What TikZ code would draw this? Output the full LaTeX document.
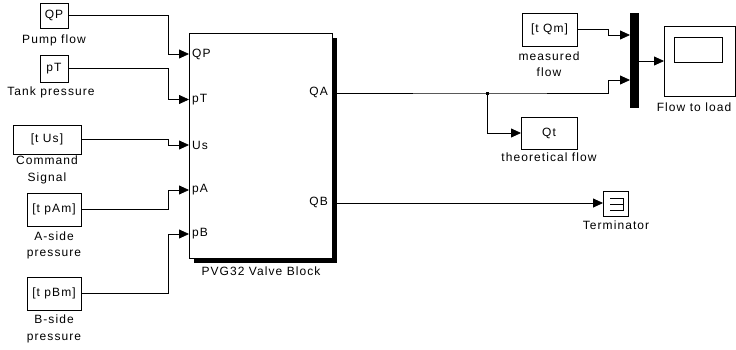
\documentclass[tikz,border=0pt]{standalone}
\usepackage{fontspec}
\setmainfont{Liberation Sans}[LetterSpace=9]
\usetikzlibrary{arrows.meta}
\begin{document}
\begin{tikzpicture}[x=1pt,y=-1pt,
  blk/.style={draw, line width=0.8pt, inner sep=0pt, outer sep=0pt, anchor=north west, font=\fontsize{12}{14}\selectfont},
  lbl/.style={font=\fontsize{12}{16.5}\selectfont, align=center, inner sep=0pt},
  port/.style={font=\fontsize{12}{14}\selectfont, inner sep=0pt},
  sig/.style={line width=0.8pt},
  arr/.style={sig, -{Triangle[length=10pt,width=9pt]}},
]
\useasboundingbox (0,0) rectangle (736,349);
% left source blocks
\node[blk, minimum width=28pt, minimum height=25pt] (QP) at (40,3) {QP};
\node[lbl] (QPl) at (54,40) {Pump flow};
\node[blk, minimum width=28pt, minimum height=27pt] (pT) at (40,55) {pT};
\node[lbl] (pTl) at (51,92) {Tank pressure};
\node[blk, minimum width=68pt, minimum height=29pt] (Us) at (13,125) {[t Us]};
\node[lbl] (Usl) at (47,170) {Command\\Signal};
\node[blk, minimum width=54pt, minimum height=33pt] (pA) at (27,193) {[t pAm]};
\node[lbl] (pAl) at (54,245.5) {A-side\\pressure};
\node[blk, minimum width=54pt, minimum height=33pt] (pB) at (27,277) {[t pBm]};
\node[lbl] (pBl) at (54,329) {B-side\\pressure};
% valve block
\fill (194,38) rectangle (337,263);
\node[blk, fill=white, minimum width=143pt, minimum height=225pt] (V) at (189,33) {};
\node[lbl] (Vl) at (261,271) {PVG32 Valve Block};
\coordinate (iQP) at (189,54);
\coordinate (ipT) at (189,99.5);
\coordinate (iUs) at (189,145);
\coordinate (ipA) at (189,190);
\coordinate (ipB) at (189,234);
\coordinate (oQA) at (337,93);
\coordinate (oQB) at (337,203);
\node[port, anchor=west] (lQP) at (192,54) {QP};
\node[port, anchor=west] (lpT) at (192,99.5) {pT};
\node[port, anchor=west] (lUs) at (192,145) {Us};
\node[port, anchor=west] (lpA) at (192,190) {pA};
\node[port, anchor=west] (lpB) at (192,234) {pB};
\node[port, anchor=east] (lQA) at (328,92) {QA};
\node[port, anchor=east] (lQB) at (328,202) {QB};
% left connectors
\draw[arr] (QP.east) -| ([xshift=-21pt]iQP) -- (iQP);
\draw[arr] (pT.east) -| ([xshift=-21pt]ipT) -- (ipT);
\draw[arr] (Us.east) -| ([xshift=-21pt]iUs) -- (iUs);
\draw[arr] (pA.east) -| ([xshift=-21pt]ipA) -- (ipA);
\draw[arr] (pB.east) -| ([xshift=-21pt]ipB) -- (ipB);
% right side
\node[blk, minimum width=55pt, minimum height=33pt] (Qm) at (522,13) {[t Qm]};
\node[lbl] (Qml) at (549,64) {measured\\flow};
\node[blk, fill=black, minimum width=8pt, minimum height=94pt] (mux) at (630,13) {};
\coordinate (m1) at (630,35);
\coordinate (m2) at (630,80);
\node[blk, minimum width=71pt, minimum height=70pt] (scope) at (664,26) {};
\draw[sig] (674,37) rectangle (722,62);
\node[lbl] (scl) at (694,107) {Flow to load};
\node[blk, minimum width=56pt, minimum height=32pt] (Qt) at (521,117) {Qt};
\node[lbl] (Qtl) at (549,157) {theoretical flow};
\node[blk, minimum width=25pt, minimum height=25pt] (term) at (603,191) {};
\draw[sig] (610,198) -- (623.5,198) -- (623.5,210) -- (610,210) (610,204) -- (623.5,204);
\node[lbl] (terml) at (616,225) {Terminator};
\coordinate (br) at (487,93);
\draw[arr] (Qm.east) -| ([xshift=-22pt]m1) -- (m1);
\draw[arr] (oQA) -- (br) -| ([xshift=-22pt]m2) -- (m2);
\fill (br) +(-1.5,-1.5) rectangle +(1.5,1.5);
\draw[arr] (br) |- (Qt.west);
\draw[arr] (mux.east |- scope.west) -- (scope.west);
\draw[arr] (oQB) -- (term.west |- oQB);
\end{tikzpicture}
\end{document}
